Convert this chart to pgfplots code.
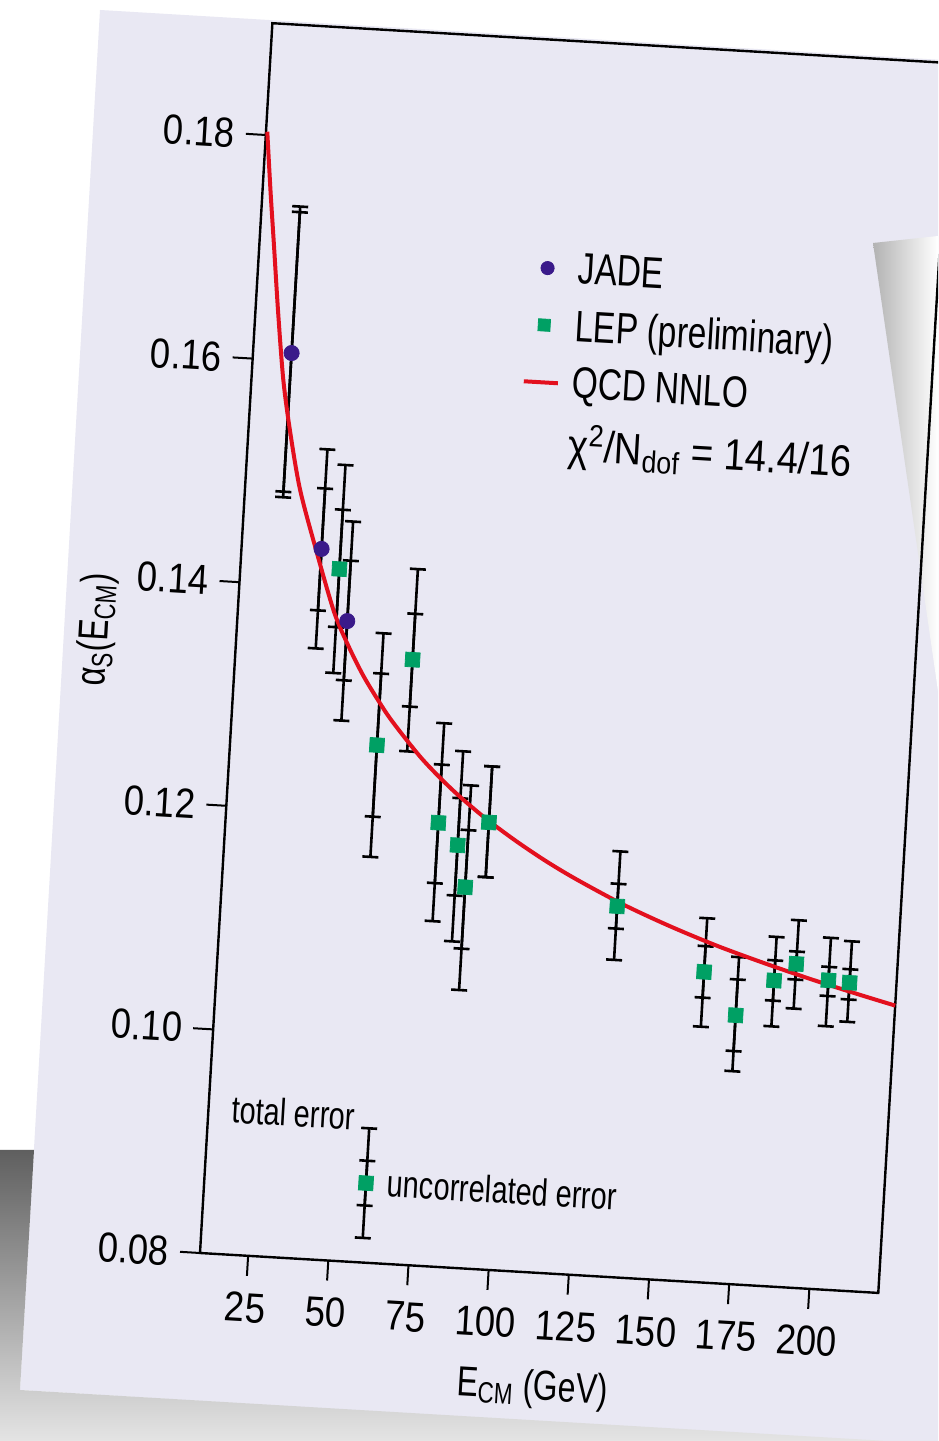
\documentclass[border=0pt]{standalone}
\usepackage{fontspec}
\setmainfont{Liberation Sans}[FakeStretch=0.76]
\newfontfamily\tickfont{Liberation Sans}[FakeStretch=0.87]
\usepackage{pgfplots}
\pgfplotsset{compat=1.18}
\usepackage{pgfplotstable}

\definecolor{bgl}{HTML}{E9E8F3}
\definecolor{jade}{HTML}{3A1A8A}
\definecolor{lep}{HTML}{00A064}
\definecolor{qcd}{HTML}{E3101E}

\pgfplotstableread{
x y tp tm up um
22.0 0.1607 0.0131 0.0129 0.0126 0.0124
34.9 0.1434 0.0089 0.0089 0.0054 0.0055
44.2 0.1371 0.0089 0.0089 0.0054 0.0053
}\jadet

\pgfplotstableread{
x y tp tm up um
40.8 0.1417 0.0093 0.0093 0.0053 0.0052
55.7 0.1262 0.0100 0.0100 0.0064 0.0064
65.2 0.1340 0.0081 0.0082 0.0041 0.0042
76.2 0.1196 0.0089 0.0088 0.0052 0.0054
82.6 0.1177 0.0084 0.0086 0.0042 0.0045
85.7 0.1140 0.0091 0.0092 0.0051 0.0055
91.9 0.1199 0.0050 0.0049 0.0050 0.0049
133.3 0.1131 0.0049 0.0048 0.0020 0.0020
161.5 0.1077 0.0048 0.0049 0.0023 0.0023
172.1 0.1040 0.0052 0.0050 0.0032 0.0032
183.4 0.1073 0.0039 0.0041 0.0018 0.0018
190.0 0.1089 0.0039 0.0040 0.0011 0.0014
200.3 0.1076 0.0038 0.0041 0.0012 0.0014
206.9 0.1075 0.0037 0.0035 0.0012 0.0015
}\lept

\pgfplotstableread{
x y tp tm up um
60.3 0.0871 0.0049 0.0049 0.0020 0.0020
}\samplet

\pgfplotstableread{
x y
10.4 0.1803
12.5 0.1750
14.6 0.1701
17.1 0.1642
19.9 0.1583
22.9 0.1538
27.1 0.1486
33.3 0.1432
40 0.1378
45 0.1349
50 0.1324
55 0.1303
60 0.1284
70 0.1252
80 0.1226
90 0.1204
100 0.1185
110 0.1168
120 0.1153
135 0.1133
150 0.1116
165 0.1101
180 0.1088
195 0.1076
210 0.1065
221.5 0.1057
}\qcdt

\begin{document}
\begin{tikzpicture}
\useasboundingbox (0,0) rectangle (469pt,720.5pt);
\clip (0,0) rectangle (469pt,720.5pt);
\fill[white] (0,0) rectangle (469pt,720.5pt);
% card
\fill[bgl] (50pt,715.5pt) -- (480pt,690pt) -- (480pt,-3pt) -- (10pt,25.5pt) -- cycle;
% shadow below card
\shade[top color={rgb,255:red,95;green,95;blue,95}, bottom color=gray!20]
  (0pt,145.5pt) -- (17pt,145.5pt) -- (10pt,25.5pt) -- (469pt,-1.5pt) -- (469pt,0pt) -- (0pt,0pt) -- cycle;
% paper on the right
\shade[left color=gray!60, right color=white] (436.5pt,599pt) -- (469pt,602.5pt) -- (469pt,375pt) -- cycle;

\begin{scope}[rotate around={-3.37:(100pt,94pt)}, transform shape]
\begin{axis}[
  at={(100pt,94pt)}, anchor=south west,
  scale only axis, width=339.75pt, height=616pt,
  xmin=10, xmax=221.5, ymin=0.08, ymax=0.19,
  axis line style={line width=1.2pt, black},
  tick pos=left, tick align=outside,
  major tick length=10pt,
  tick style={line width=1pt, black},
  xtick={25,50,75,100,125,150,175,200},
  ytick={0.08,0.10,0.12,0.14,0.16,0.18},
  /pgf/number format/assume math mode=true,
  yticklabel style={/pgf/number format/fixed, /pgf/number format/fixed zerofill, /pgf/number format/precision=2, xshift=-2pt},
  xticklabel style={/pgf/number format/fixed, /pgf/number format/precision=0, yshift=-5pt},
  tick label style={font=\tickfont\fontsize{21}{25}\selectfont},
  xlabel={E\textsubscript{CM} (GeV)},
  ylabel={α\textsubscript{S}(E\textsubscript{CM})},
  label style={font=\fontsize{21}{25}\selectfont},
  xlabel style={yshift=-8pt},
  ylabel style={yshift=2pt},
  legend style={at={(0.388,0.835)}, anchor=north west, draw=none, fill=none,
    font=\fontsize{22}{26}\selectfont, row sep=7.5pt, column sep=4pt},
  legend cell align=left,
  clip=false,
  error bars/error mark options={rotate=90, draw=black, line width=1.3pt, mark size=4pt},
]
% total errors
\addplot[forget plot, only marks, mark=none,
  error bars/.cd, y dir=both, y explicit, error bar style={draw=black, line width=1.3pt}]
  table[x=x, y=y, y error plus=tp, y error minus=tm] {\jadet};
\addplot[forget plot, only marks, mark=none,
  error bars/.cd, y dir=both, y explicit, error bar style={draw=black, line width=1.3pt}]
  table[x=x, y=y, y error plus=up, y error minus=um] {\jadet};
\addplot[forget plot, only marks, mark=none,
  error bars/.cd, y dir=both, y explicit, error bar style={draw=black, line width=1.3pt}]
  table[x=x, y=y, y error plus=tp, y error minus=tm] {\lept};
\addplot[forget plot, only marks, mark=none,
  error bars/.cd, y dir=both, y explicit, error bar style={draw=black, line width=1.3pt}]
  table[x=x, y=y, y error plus=up, y error minus=um] {\lept};
\addplot[forget plot, only marks, mark=none,
  error bars/.cd, y dir=both, y explicit, error bar style={draw=black, line width=1.3pt}]
  table[x=x, y=y, y error plus=tp, y error minus=tm] {\samplet};
\addplot[forget plot, only marks, mark=none,
  error bars/.cd, y dir=both, y explicit, error bar style={draw=black, line width=1.3pt}]
  table[x=x, y=y, y error plus=up, y error minus=um] {\samplet};
% fit
\addplot[forget plot, qcd, line width=2pt, smooth, tension=0.5, mark=none] table[x=x, y=y] {\qcdt};
% markers
\addplot[forget plot, only marks, mark=*, mark size=3.8pt, color=jade, mark options={fill=jade, draw=jade}] table[x=x, y=y] {\jadet};
\addplot[forget plot, only marks, mark=square*, mark size=3.6pt, color=lep, mark options={fill=lep, draw=lep}] table[x=x, y=y] {\lept};
\addplot[forget plot, only marks, mark=square*, mark size=3.6pt, color=lep, mark options={fill=lep, draw=lep}] table[x=x, y=y] {\samplet};
% legend
\addlegendimage{only marks, mark=*, mark size=3.3pt, color=jade, mark options={fill=jade, draw=jade}}
\addlegendentry{JADE}
\addlegendimage{only marks, mark=square*, mark size=3pt, color=lep, mark options={fill=lep, draw=lep}}
\addlegendentry{LEP (preliminary)}
\addlegendimage{qcd, line width=2pt}
\addlegendentry{QCD NNLO}
\addlegendimage{empty legend}
\addlegendentry{\tickfont χ\textsuperscript{2}/N\textsubscript{dof} = 14.4/16}
% annotations
\node[anchor=east, font=\fontsize{19}{22}\selectfont, inner sep=1pt] at (axis cs:56.5,0.0930) {total error};
\node[anchor=west, font=\fontsize{19}{22}\selectfont, inner sep=1pt] at (axis cs:66.3,0.0872) {uncorrelated error};
\end{axis}
\end{scope}
\end{tikzpicture}
\end{document}
